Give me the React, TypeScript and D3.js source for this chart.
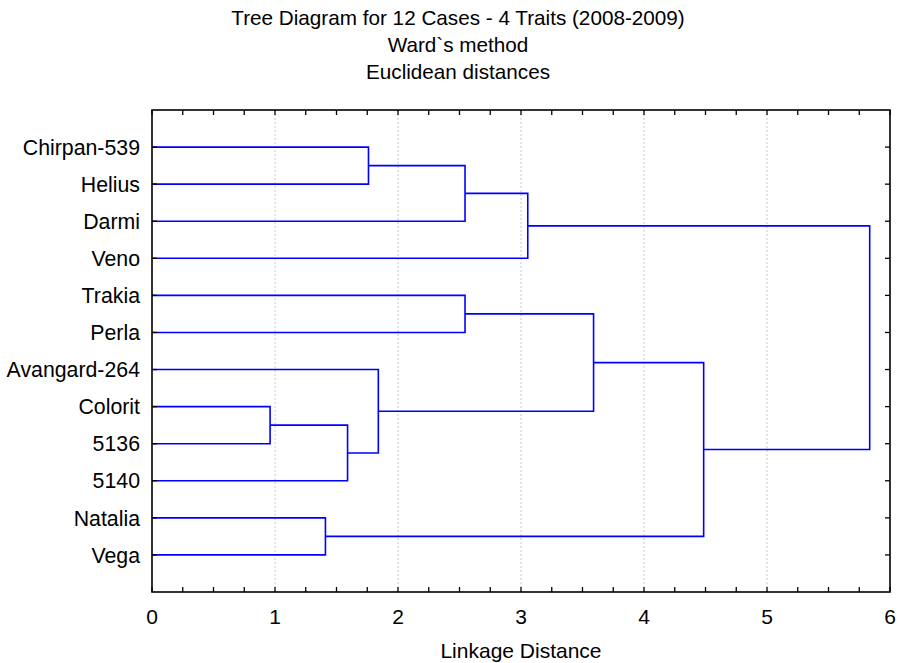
import React from "react";
import * as d3 from "d3";

const leafLabels = ["Chirpan-539", "Helius", "Darmi", "Veno", "Trakia", "Perla", "Avangard-264", "Colorit", "5136", "5140", "Natalia", "Vega"];
// linkage: new cluster id = 12 + index
const linkA = [7, 10, 12, 0, 14, 15, 4, 17, 18, 20, 19];
const linkB = [8, 11, 9, 1, 6, 2, 5, 3, 16, 13, 21];
const linkHeight = [0.96, 1.41, 1.59, 1.76, 1.84, 2.545, 2.545, 3.055, 3.59, 4.485, 5.835];
const xTicks = [0, 1, 2, 3, 4, 5, 6];
const titleLines = ["Tree Diagram for 12 Cases - 4 Traits (2008-2009)", "Ward`s method", "Euclidean distances"];
const xAxisTitle = "Linkage Distance";

const W = 900, H = 663;
const L = 152, R = 890, T = 110, B = 592;
const FONT = "'Liberation Sans', Arial, sans-serif";

export default function App() {
  const x = d3.scaleLinear().domain([0, 6]).range([L, R]);
  const y = d3.scaleLinear().domain([0, leafLabels.length + 1]).range([T, B]);

  const n = leafLabels.length;
  const posY: number[] = leafLabels.map((_, i) => y(i + 1));
  const posH: number[] = leafLabels.map(() => 0);
  const paths: string[] = [];
  linkA.forEach((a, k) => {
    const b = linkB[k];
    const h = linkHeight[k];
    const p = d3.path();
    p.moveTo(x(posH[a]), posY[a]);
    p.lineTo(x(h), posY[a]);
    p.lineTo(x(h), posY[b]);
    p.lineTo(x(posH[b]), posY[b]);
    paths.push(p.toString());
    posY[n + k] = (posY[a] + posY[b]) / 2;
    posH[n + k] = h;
  });

  const minor = d3.range(0, 6.001, 0.25);

  return (
    <svg width={W} height={H} style={{ position: "absolute", left: 0, top: 0, background: "#fff" }} fontFamily={FONT}>
      <rect x={0} y={0} width={W} height={H} fill="#fff" />
      {titleLines.map((t, i) => (
        <text key={i} x={458} y={25 + i * 27} textAnchor="middle" fontSize={20.7} fill="#000">{t}</text>
      ))}
      {xTicks.slice(1, -1).map((t) => (
        <line key={t} x1={x(t)} x2={x(t)} y1={T} y2={B} stroke="#c8c8c8" strokeWidth={1} strokeDasharray="2,2" />
      ))}
      {paths.map((d, i) => (
        <path key={i} d={d} fill="none" stroke="#0000ff" strokeWidth={1.6} />
      ))}
      {minor.map((t, i) => (
        <g key={i}>
          <line x1={x(t)} x2={x(t)} y1={B} y2={B - 5} stroke="#000" strokeWidth={1.3} />
          <line x1={x(t)} x2={x(t)} y1={T} y2={T + 5} stroke="#000" strokeWidth={1.3} />
        </g>
      ))}
      {leafLabels.map((lab, i) => (
        <g key={lab}>
          <line x1={L} x2={L + 5} y1={y(i + 1)} y2={y(i + 1)} stroke="#000" strokeWidth={1.3} />
          <line x1={R} x2={R - 5} y1={y(i + 1)} y2={y(i + 1)} stroke="#000" strokeWidth={1.3} />
          <text x={140} y={y(i + 1)} dy="0.36em" textAnchor="end" fontSize={21.3} fill="#000">{lab}</text>
        </g>
      ))}
      <rect x={L} y={T} width={R - L} height={B - T} fill="none" stroke="#000" strokeWidth={1.6} />
      {xTicks.map((t) => (
        <text key={t} x={x(t)} y={624} textAnchor="middle" fontSize={21} fill="#000">{t}</text>
      ))}
      <text x={(L + R) / 2} y={658} textAnchor="middle" fontSize={21} fill="#000">{xAxisTitle}</text>
    </svg>
  );
}
